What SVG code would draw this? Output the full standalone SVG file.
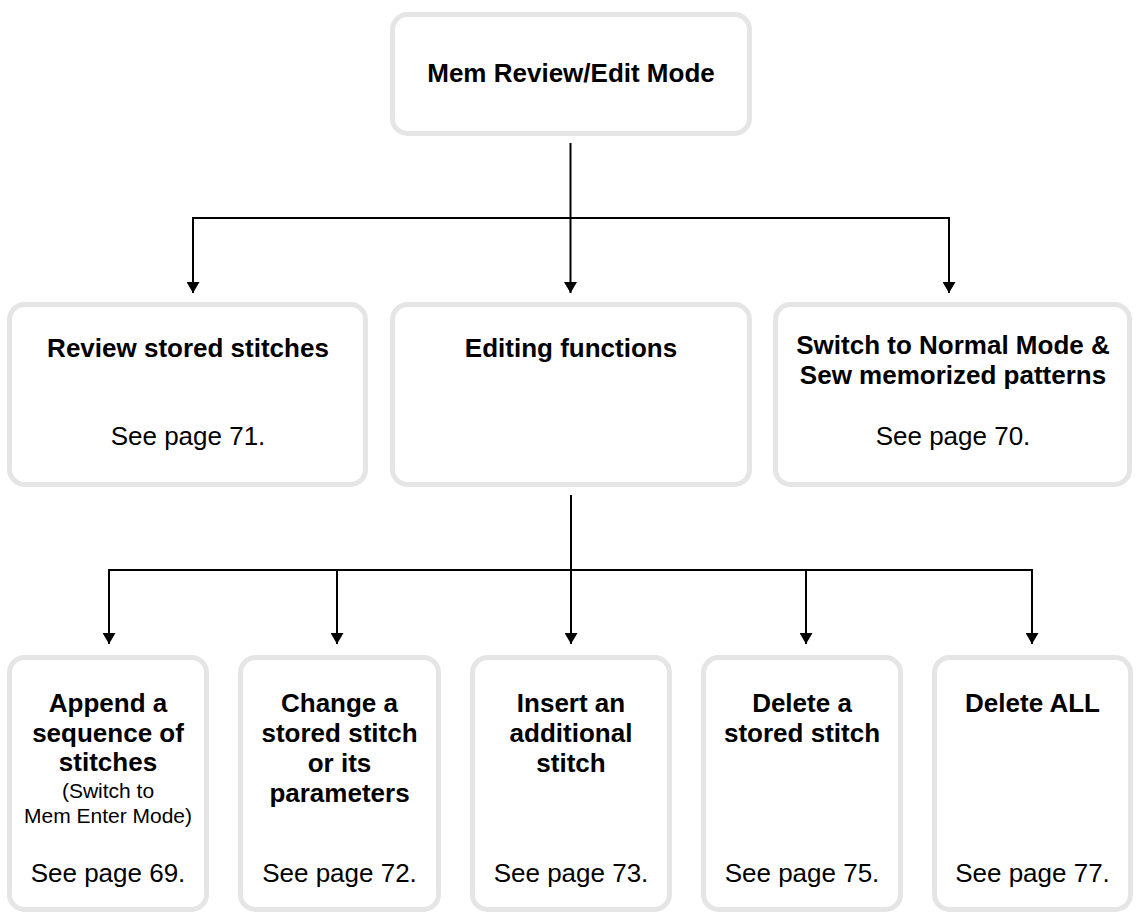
<svg xmlns="http://www.w3.org/2000/svg" width="1136" height="912" viewBox="0 0 1136 912">
<style>
.box{fill:#ffffff;stroke:#e5e5e5;stroke-width:5}
.t{font-family:"Liberation Sans",Arial,sans-serif;font-size:26px;font-weight:bold;fill:#000;text-anchor:middle}
.p{font-family:"Liberation Sans",Arial,sans-serif;font-size:26px;fill:#000;text-anchor:middle}
.s{font-family:"Liberation Sans",Arial,sans-serif;font-size:21px;fill:#000;text-anchor:middle}
.c{fill:none;stroke:#000;stroke-width:2}
</style>
<defs>
<marker id="ah" viewBox="0 0 11 13" refX="11" refY="6.5" markerWidth="11" markerHeight="13" markerUnits="userSpaceOnUse" orient="auto">
<path d="M0,0 L11,6.5 L0,13 Z" fill="#000"/>
</marker>
</defs>
<rect width="1136" height="912" fill="#ffffff"/>
<g id="connectors">
<line class="c" x1="570.5" y1="143" x2="570.5" y2="293" marker-end="url(#ah)"/>
<line class="c" x1="192" y1="218" x2="950" y2="218"/>
<line class="c" x1="193" y1="217" x2="193" y2="293" marker-end="url(#ah)"/>
<line class="c" x1="949" y1="217" x2="949" y2="293" marker-end="url(#ah)"/>
<line class="c" x1="571" y1="495" x2="571" y2="644" marker-end="url(#ah)"/>
<line class="c" x1="108" y1="570" x2="1033" y2="570"/>
<line class="c" x1="109" y1="569" x2="109" y2="644" marker-end="url(#ah)"/>
<line class="c" x1="337" y1="570" x2="337" y2="644" marker-end="url(#ah)"/>
<line class="c" x1="806" y1="570" x2="806" y2="644" marker-end="url(#ah)"/>
<line class="c" x1="1032" y1="569" x2="1032" y2="644" marker-end="url(#ah)"/>
</g>
<g id="mem-review-edit">
<rect class="box" x="392.5" y="14.5" width="357" height="119" rx="15"/>
<text class="t" x="571" y="82">Mem Review/Edit Mode</text>
</g>
<g id="review-stored">
<rect class="box" x="9.5" y="304.5" width="356" height="180" rx="15"/>
<text class="t" x="188" y="357">Review stored stitches</text>
<text class="p" x="188" y="445">See page 71.</text>
</g>
<g id="editing-functions">
<rect class="box" x="392.5" y="304.5" width="357" height="180" rx="15"/>
<text class="t" x="571" y="357">Editing functions</text>
</g>
<g id="switch-normal">
<rect class="box" x="775.5" y="304.5" width="354" height="180" rx="15"/>
<text class="t" x="953" y="354">Switch to Normal Mode &amp;</text>
<text class="t" x="953" y="384">Sew memorized patterns</text>
<text class="p" x="953" y="445">See page 70.</text>
</g>
<g id="append">
<rect class="box" x="9.5" y="657.5" width="197" height="252" rx="15"/>
<text class="t" x="108" y="712">Append a</text>
<text class="t" x="108" y="742">sequence of</text>
<text class="t" x="108" y="771">stitches</text>
<text class="s" x="108" y="798">(Switch to</text>
<text class="s" x="108" y="823">Mem Enter Mode)</text>
<text class="p" x="108" y="882">See page 69.</text>
</g>
<g id="change">
<rect class="box" x="240.5" y="657.5" width="198" height="252" rx="15"/>
<text class="t" x="339.5" y="712">Change a</text>
<text class="t" x="339.5" y="742">stored stitch</text>
<text class="t" x="339.5" y="772">or its</text>
<text class="t" x="339.5" y="802">parameters</text>
<text class="p" x="339.5" y="882">See page 72.</text>
</g>
<g id="insert">
<rect class="box" x="472.5" y="657.5" width="197" height="252" rx="15"/>
<text class="t" x="571" y="712">Insert an</text>
<text class="t" x="571" y="742">additional</text>
<text class="t" x="571" y="772">stitch</text>
<text class="p" x="571" y="882">See page 73.</text>
</g>
<g id="delete-stored">
<rect class="box" x="703.5" y="657.5" width="197" height="252" rx="15"/>
<text class="t" x="802" y="712">Delete a</text>
<text class="t" x="802" y="742">stored stitch</text>
<text class="p" x="802" y="882">See page 75.</text>
</g>
<g id="delete-all">
<rect class="box" x="934.5" y="657.5" width="196" height="252" rx="15"/>
<text class="t" x="1032.5" y="712">Delete ALL</text>
<text class="p" x="1032.5" y="882">See page 77.</text>
</g>
</svg>
